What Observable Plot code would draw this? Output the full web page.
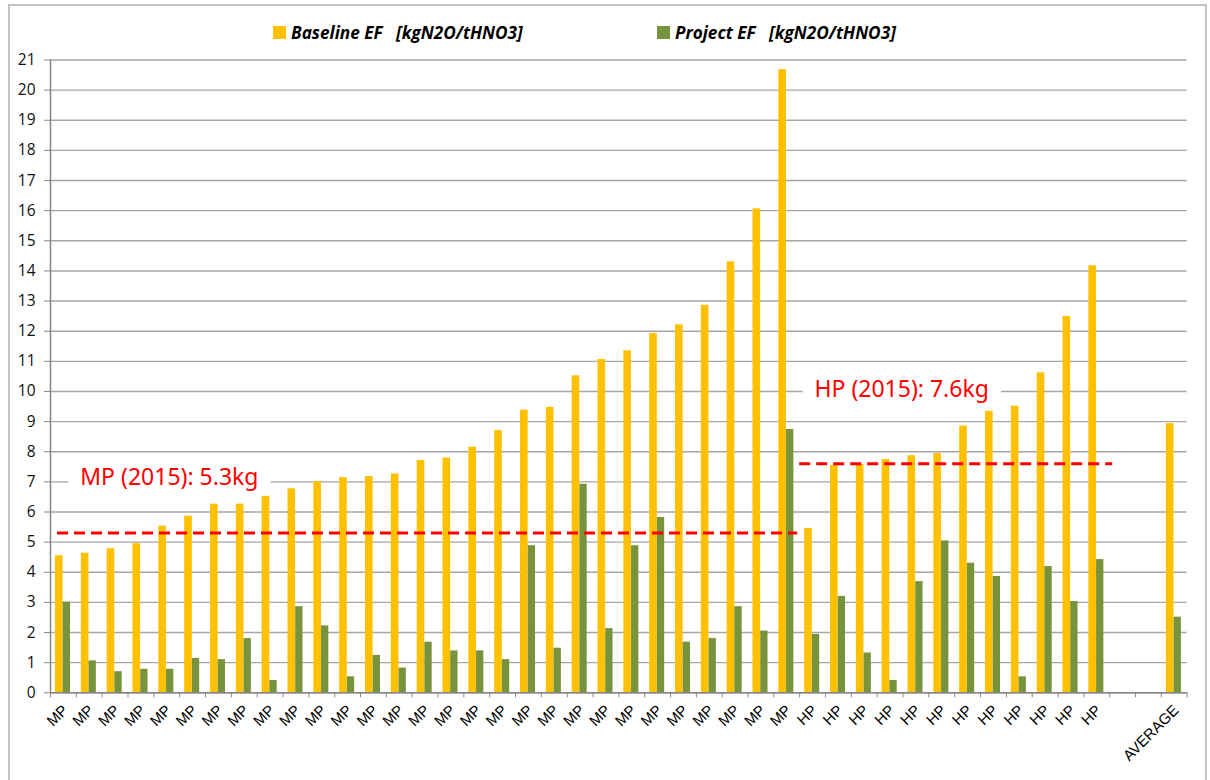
<!DOCTYPE html>
<html><head><meta charset="utf-8">
<script src="https://cdn.jsdelivr.net/npm/d3@7"></script>
<script src="https://cdn.jsdelivr.net/npm/@observablehq/plot@0.6"></script>
<style>
body{margin:0;background:#fff;}
#wrap{position:relative;width:1210px;height:780px;overflow:hidden;background:#fff;}
#border{position:absolute;left:8px;top:4px;width:1199px;height:820px;border:2px solid #c4c4c4;box-sizing:border-box;}
#chart{position:absolute;left:0;top:0;}
.leg{position:absolute;top:21px;font:italic bold 17.2px "Open Sans";white-space:pre;display:flex;align-items:center;color:#000;}
.sw{width:13px;height:13px;margin-right:5px;display:inline-block;}
</style></head>
<body><div id="wrap"><div id="border"></div><div id="chart"></div></div>
<script>
// ---- data ----
const labels = [
  "MP","MP","MP","MP","MP","MP","MP","MP","MP","MP","MP","MP","MP","MP","MP",
  "MP","MP","MP","MP","MP","MP","MP","MP","MP","MP","MP","MP","MP","MP",
  "HP","HP","HP","HP","HP","HP","HP","HP","HP","HP","HP","HP",
  "","","AVERAGE"
];
const baselineEF = [
  4.55,4.63,4.78,4.95,5.53,5.86,6.26,6.26,6.52,6.77,7.01,7.14,7.18,7.26,7.71,
  7.79,8.15,8.70,9.38,9.47,10.52,11.06,11.35,11.92,12.21,12.86,14.30,16.06,20.68,
  5.45,7.54,7.58,7.74,7.87,7.94,8.85,9.34,9.51,10.62,12.49,14.17,
  null,null,8.93
];
const projectEF = [
  3.01,1.06,0.70,0.78,0.78,1.14,1.10,1.80,0.41,2.86,2.22,0.53,1.24,0.82,1.68,
  1.39,1.39,1.10,4.88,1.48,6.92,2.13,4.88,5.82,1.68,1.80,2.86,2.05,8.74,
  1.94,3.20,1.32,0.41,3.69,5.04,4.30,3.86,0.53,4.19,3.03,4.42,
  null,null,2.51
];
const seriesNames = ["Baseline EF   [kgN2O/tHNO3]", "Project EF   [kgN2O/tHNO3]"];
const seriesColors = ["#FFC000", "#77933C"];
const refGroups = ["MP", "HP"];
const refYear = 2015;
const refValues = [5.3, 7.6];
const yTicks = d3.range(0, 22);

// ---- layout ----
const W = 1210, H = 780;
const mL = 50, mR = 23.3, mT = 59.5, mB = 87.7;
const bw = (W - mL - mR) / labels.length;

const idx = labels.map((_, i) => i);
const rows = idx.map(i => ({i, label: labels[i], base: baselineEF[i], proj: projectEF[i]}));
const refs = refGroups.map((g, k) => ({
  group: g, value: refValues[k],
  from: labels.indexOf(g), to: labels.lastIndexOf(g),
  text: `${g} (${refYear}): ${refValues[k]}kg`
}));

const plot = Plot.plot({
  width: W, height: H,
  marginLeft: mL, marginRight: mR, marginTop: mT, marginBottom: mB,
  x: {type: "band", domain: idx, padding: 0, axis: null},
  y: {domain: [0, 21], axis: null},
  style: {overflow: "visible", background: "transparent"},
  marks: [
    Plot.gridY(yTicks, {stroke: "#a6a6a6", strokeOpacity: 1, strokeWidth: 1.4}),
    // annotations (white halo hides gridlines behind the text)
    Plot.text([refs[0]], {x: [refs[0].from + 1], y: [7], text: d => d.text, textAnchor: "start",
      dx: -9, dy: -4, fill: "#FF0000", stroke: "white", strokeWidth: 28, fontSize: 23, fontFamily: "Noto Sans"}),
    Plot.text([refs[1]], {x: [refs[1].from + 1], y: [10], text: d => d.text, textAnchor: "start",
      dx: -24, dy: -2, fill: "#FF0000", stroke: "white", strokeWidth: 28, fontSize: 23, fontFamily: "Noto Sans"}),
    Plot.barY(rows, {x: "i", y: "base", fill: seriesColors[0], insetLeft: 5, insetRight: bw - 12.6}),
    Plot.barY(rows, {x: "i", y: "proj", fill: seriesColors[1], insetLeft: 12.7, insetRight: bw - 20}),
    Plot.ruleY([refs[0]], {y: "value", x1: "from", x2: "to", stroke: "#FF0000", strokeWidth: 3,
      strokeDasharray: "11,6", insetLeft: 7, insetRight: 2}),
    Plot.ruleY([refs[1]], {y: "value", x1: "from", x2: "to", stroke: "#FF0000", strokeWidth: 3,
      strokeDasharray: "11,6", insetLeft: 0, insetRight: -3}),
    // axes
    Plot.ruleY([0], {stroke: "#868686", strokeWidth: 1.5}),
    Plot.frame({anchor: "left", stroke: "#868686", strokeWidth: 1.5}),
    Plot.axisY({ticks: yTicks, tickSize: 6, tickPadding: 9, stroke: "#868686", fill: "#111",
      fontSize: 15.5, fontFamily: "Open Sans", label: null}),
    Plot.axisX({ticks: idx, tickSize: 5, tickFormat: () => "", dx: -bw / 2, stroke: "#868686", label: null}),
    Plot.axisX({ticks: [idx[idx.length - 1]], tickSize: 5, tickFormat: () => "", dx: bw / 2, stroke: "#868686", label: null}),
    Plot.axisX({ticks: idx, tickSize: 0, tickPadding: 15, tickRotate: -45, tickFormat: i => labels[i],
      fontSize: 15, fontFamily: "Liberation Sans", fill: "#000", label: null, dx: 2})
  ]
});
const chart = document.getElementById("chart");
chart.appendChild(plot);

const wrap = document.getElementById("wrap");
const legLeft = [273, 657];
seriesNames.forEach((name, k) => {
  const d = document.createElement("div");
  d.className = "leg";
  d.style.left = legLeft[k] + "px";
  const sw = document.createElement("span");
  sw.className = "sw";
  sw.style.background = seriesColors[k];
  d.appendChild(sw);
  d.appendChild(document.createTextNode(name));
  wrap.appendChild(d);
});
</script>
</body></html>
